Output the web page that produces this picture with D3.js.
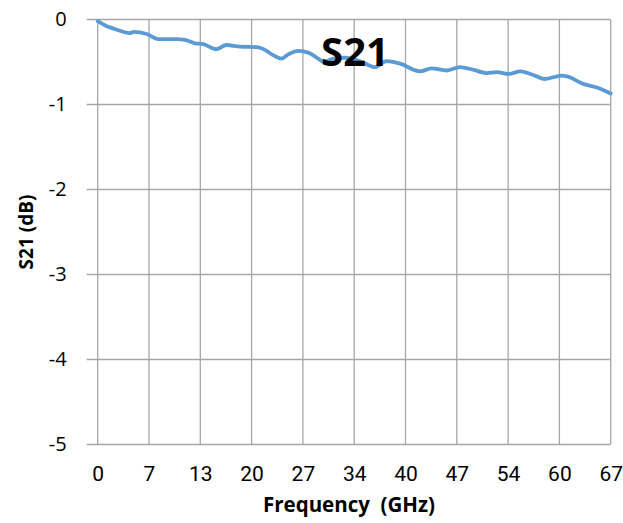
<!DOCTYPE html>
<html>
<head>
<meta charset="utf-8">
<script src="https://cdn.jsdelivr.net/npm/d3@7"></script>
<style>
  body { margin: 0; background: #fff; }
  .grid line { stroke: #a6a6a6; stroke-width: 1.3; }
  .tick text { fill: #000; }
</style>
</head>
<body>
<div id="chart"></div>
<script>
// S21 data
var freq = [0, 1, 2.5, 4.2, 4.7, 6.4, 7.9, 10.3, 11.4, 12.7, 13.8, 15.5, 16.8, 18.6, 20.8,
  21.9, 22.9, 24.0, 24.9, 26.2, 27.5, 28.8, 29.5, 30.8, 32.3, 33.4, 34.5, 36.2, 37.7,
  39.5, 42.1, 43.6, 45.6, 47.3, 49, 50.8, 52.1, 53.7, 55.2, 56.8, 58.4, 60.6, 61.3,
  63.5, 65.2, 67];
var s21 = [-0.02, -0.07, -0.12, -0.16, -0.145, -0.17, -0.23, -0.23, -0.24, -0.28, -0.29,
  -0.35, -0.30, -0.32, -0.325, -0.36, -0.42, -0.46, -0.41, -0.37, -0.39, -0.46, -0.50,
  -0.46, -0.45, -0.47, -0.50, -0.56, -0.49, -0.52, -0.61, -0.575, -0.60, -0.56, -0.59,
  -0.63, -0.62, -0.64, -0.61, -0.65, -0.70, -0.66, -0.67, -0.76, -0.80, -0.87];
var xTicks = [0, 6.7, 13.4, 20.1, 26.8, 33.5, 40.2, 46.9, 53.6, 60.3, 67];
var xTickLabels = ["0", "7", "13", "20", "27", "34", "40", "47", "54", "60", "67"];
var yTicks = [0, -1, -2, -3, -4, -5];

var svgWidth = 623;
var svgHeight = 523;
var margin = { top: 19.5, right: 12.3, bottom: 78.5, left: 97.7 };
var width = svgWidth - margin.left - margin.right;
var height = svgHeight - margin.top - margin.bottom;

var svg = d3.select("#chart")
  .append("svg")
  .attr("width", svgWidth)
  .attr("height", svgHeight);

var chartGroup = svg.append("g")
  .attr("transform", `translate(${margin.left}, ${margin.top})`);

var xScale = d3.scaleLinear().domain([0, 67]).range([0, width]);
var yScale = d3.scaleLinear().domain([-5, 0]).range([height, 0]);

// vertical grid
chartGroup.append("g")
  .attr("class", "grid")
  .selectAll("line")
  .data(xTicks)
  .enter()
  .append("line")
  .attr("x1", d => xScale(d))
  .attr("x2", d => xScale(d))
  .attr("y1", 0)
  .attr("y2", height);

// horizontal grid + left tick stubs
chartGroup.append("g")
  .attr("class", "grid")
  .selectAll("line")
  .data(yTicks)
  .enter()
  .append("line")
  .attr("x1", -11)
  .attr("x2", width)
  .attr("y1", d => yScale(d))
  .attr("y2", d => yScale(d));

// y tick labels
var leftAxis = d3.axisLeft(yScale).tickValues(yTicks).tickSize(0).tickPadding(31)
  .tickFormat(d => d3.format("d")(d).replace("−", "-"));
var yAxis = chartGroup.append("g").call(leftAxis);
yAxis.select(".domain").remove();
yAxis.selectAll("text")
  .style("font-family", "'Open Sans', 'Liberation Sans', sans-serif")
  .style("font-size", "20px");

// x tick labels
var bottomAxis = d3.axisBottom(xScale).tickValues(xTicks).tickSize(0).tickPadding(22)
  .tickFormat((d, i) => xTickLabels[i]);
var xAxis = chartGroup.append("g")
  .attr("transform", `translate(0, ${height})`)
  .call(bottomAxis);
xAxis.select(".domain").remove();
xAxis.selectAll("text")
  .style("font-family", "'Liberation Sans Narrow', 'Roboto', sans-serif")
  .style("font-size", "21px");

// the S21 curve
var line = d3.line()
  .x((d, i) => xScale(freq[i]))
  .y(d => yScale(d))
  .curve(d3.curveMonotoneX);

chartGroup.append("path")
  .datum(s21)
  .attr("d", line)
  .attr("fill", "none")
  .attr("stroke", "#5b9bd5")
  .attr("stroke-width", 3.8)
  .attr("stroke-linejoin", "round")
  .attr("stroke-linecap", "round");

// title sits over the line
svg.append("text")
  .attr("x", 355)
  .attr("y", 66)
  .attr("text-anchor", "middle")
  .style("font-family", "'Open Sans', 'Liberation Sans', sans-serif")
  .style("font-weight", "bold")
  .style("font-size", "40px")
  .text("S21");

// axis titles
svg.append("text")
  .attr("x", 349)
  .attr("y", 512)
  .attr("text-anchor", "middle")
  .style("font-family", "'Open Sans', 'Liberation Sans', sans-serif")
  .style("font-weight", "bold")
  .style("font-size", "20.5px")
  .style("white-space", "pre")
  .text("Frequency  (GHz)");

svg.append("text")
  .attr("transform", "translate(33, 232) rotate(-90)")
  .attr("text-anchor", "middle")
  .style("font-family", "'Open Sans', 'Liberation Sans', sans-serif")
  .style("font-weight", "bold")
  .style("font-size", "19px")
  .text("S21 (dB)");
</script>
</body>
</html>
